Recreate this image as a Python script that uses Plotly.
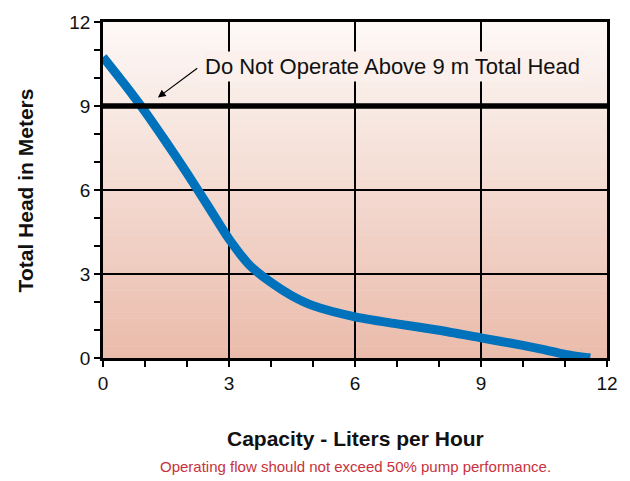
import plotly.graph_objects as go

# Pump performance curve
capacity = [0, 0.5, 1.0, 1.5, 2.0, 2.5, 3.0, 3.5, 4.0, 4.5, 5.0, 6.0, 7.0, 8.0, 9.0, 10.0, 10.5, 11.0, 11.6]
head = [10.75, 9.8, 8.8, 7.72, 6.6, 5.43, 4.25, 3.3, 2.7, 2.22, 1.87, 1.47, 1.22, 0.99, 0.72, 0.45, 0.3, 0.13, 0.0]

max_head = 9
x_ticks = [0, 3, 6, 9, 12]
y_ticks = [0, 3, 6, 9, 12]
limit_text = "Do Not Operate Above 9 m Total Head"
x_title = "Capacity - Liters per Hour"
y_title = "Total Head in Meters"
footer = "Operating flow should not exceed 50% pump performance."

FONT = "Liberation Sans, Arial, sans-serif"

fig = go.Figure()
fig.add_trace(go.Scatter(x=capacity, y=head, mode="lines",
                         line=dict(color="#0072BB", width=9, shape="spline", smoothing=0.7),
                         hoverinfo="skip", showlegend=False))

# gradient background bands
top = (253, 249, 247)
bot = (234, 187, 171)
n = 60
shapes = []
for i in range(n):
    t = (i + 0.5) / n
    c = tuple(round(bot[k] + (top[k] - bot[k]) * t) for k in range(3))
    shapes.append(dict(type="rect", xref="paper", yref="paper", x0=0, x1=1,
                       y0=i / n, y1=(i + 1) / n + 0.002, fillcolor="rgb(%d,%d,%d)" % c,
                       line=dict(width=0), layer="below"))
shapes.append(dict(type="line", xref="paper", yref="y", x0=0, x1=1, y0=max_head, y1=max_head,
                   line=dict(color="black", width=5.5), layer="above"))

axis_common = dict(showline=True, mirror=True, linecolor="black", linewidth=2.5,
                   showgrid=True, gridcolor="black", gridwidth=2, zeroline=False,
                   ticks="outside", ticklen=6, tickwidth=2, tickcolor="black",
                   tickfont=dict(family=FONT, size=19, color="#111"),
                   minor=dict(dtick=1, ticks="outside", ticklen=6, tickwidth=2,
                              tickcolor="black", showgrid=False))

fig.update_layout(
    width=630, height=481,
    margin=dict(l=103, r=22, t=17, b=123),
    paper_bgcolor="white", plot_bgcolor="white",
    shapes=shapes,
    xaxis=dict(range=[0, 12], tickvals=x_ticks, **axis_common),
    yaxis=dict(range=[0, 12], tickvals=y_ticks, **axis_common),
    annotations=[
        dict(x=6.89, y=10.42, xref="x", yref="y", text=limit_text, showarrow=False,
             font=dict(family=FONT, size=22, color="#111"),
             bgcolor="rgb(251,240,236)", borderpad=2),
        dict(x=1.306, y=9.30, xref="x", yref="y", ax=2.28, ay=10.39, axref="x", ayref="y",
             text="", showarrow=True, arrowhead=2, arrowsize=1.3, arrowwidth=1.2,
             arrowcolor="black"),
        dict(x=0.5, y=-0.24, xref="paper", yref="paper", text="<b>%s</b>" % x_title,
             showarrow=False, font=dict(family=FONT, size=21, color="#111"),
             xanchor="center", yanchor="middle"),
        dict(x=-0.154, y=0.5, xref="paper", yref="paper", text="<b>%s</b>" % y_title,
             showarrow=False, textangle=-90, font=dict(family=FONT, size=21, color="#111"),
             xanchor="center", yanchor="middle"),
        dict(x=0.5, y=-0.323, xref="paper", yref="paper", text=footer, showarrow=False,
             font=dict(family=FONT, size=15, color="#C8323C"),
             xanchor="center", yanchor="middle"),
    ],
)

fig.write_html("out.html", config={"displayModeBar": False},
               post_script="document.body.style.margin='0';document.body.style.overflow='hidden';")
